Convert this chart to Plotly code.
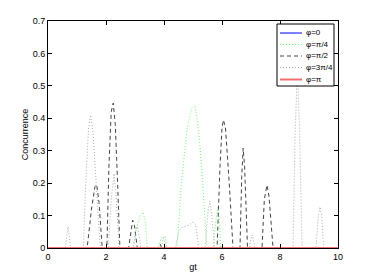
import plotly.graph_objects as go

# phi = 0 (blue) and phi = pi (red) are zero everywhere
gt_flat = [0, 10]
c_flat = [0, 0]

# phi = pi/4 (green dotted)
gt_pi4 = [0, 2.92, 3.05, 3.18, 3.28, 3.36, 3.42, 3.8, 3.88, 3.95, 4.02, 4.06,
          4.45, 4.6, 4.8, 4.95, 5.07, 5.2, 5.35, 5.48, 5.7, 5.78, 5.86, 5.92, 5.96, 10]
c_pi4 = [0, 0, 0.06, 0.10, 0.11, 0.08, 0, 0, 0.025, 0.035, 0.02, 0,
         0, 0.20, 0.37, 0.43, 0.44, 0.36, 0.18, 0, 0, 0.08, 0.125, 0.07, 0, 0]

# phi = pi/2 (dark dashed)
gt_pi2 = [0, 1.35, 1.5, 1.62, 1.68, 1.76, 1.87, 2.03, 2.1, 2.18, 2.25, 2.32, 2.4, 2.48,
          2.78, 2.86, 2.92, 2.98, 3.08, 3.82, 3.87, 3.92,
          5.83, 5.93, 6.0, 6.05, 6.12, 6.25, 6.38, 6.62, 6.68, 6.73, 6.78, 6.88,
          7.38, 7.46, 7.55, 7.62, 7.76, 10]
c_pi2 = [0, 0, 0.12, 0.19, 0.195, 0.14, 0, 0, 0.25, 0.42, 0.447, 0.38, 0.2, 0,
         0, 0.06, 0.086, 0.07, 0, 0, 0.012, 0,
         0, 0.25, 0.37, 0.395, 0.37, 0.2, 0, 0, 0.22, 0.308, 0.25, 0,
         0, 0.15, 0.194, 0.16, 0, 0]

# phi = 3pi/4 (light gray dotted)
gt_3pi4 = [0, 0.6, 0.65, 0.69, 0.73, 0.78, 1.22, 1.3, 1.4, 1.47, 1.55, 1.66, 1.8,
           2.08, 2.18, 2.28, 2.36, 2.45, 2.95, 3.02, 3.08, 3.14, 3.2,
           3.9, 3.98, 4.04, 4.1, 4.4, 4.5, 4.65, 4.85, 5.0, 5.1, 5.2,
           5.42, 5.5, 5.58, 5.65, 5.74, 6.95, 7.0, 7.05, 7.1, 7.14,
           8.45, 8.52, 8.6, 8.68, 8.76, 9.24, 9.32, 9.38, 9.44, 9.5, 10]
c_3pi4 = [0, 0, 0.04, 0.065, 0.04, 0, 0, 0.2, 0.37, 0.41, 0.36, 0.2, 0,
          0, 0.15, 0.23, 0.15, 0, 0, 0.05, 0.065, 0.04, 0,
          0, 0.03, 0.037, 0, 0, 0.05, 0.065, 0.07, 0.08, 0.07, 0,
          0, 0.1, 0.145, 0.1, 0, 0, 0.03, 0.04, 0.02, 0,
          0, 0.35, 0.55, 0.35, 0, 0, 0.1, 0.127, 0.1, 0, 0]

series_names = ["φ=0", "φ=π/4", "φ=π/2", "φ=3π/4", "φ=π"]
x_ticks = [0, 2, 4, 6, 8, 10]
y_ticks = [0, 0.1, 0.2, 0.3, 0.4, 0.5, 0.6, 0.7]
y_tick_labels = ["0", "0.1", "0.2", "0.3", "0.4", "0.5", "0.6", "0.7"]

styles = [
    dict(color="#0000ff", width=1, dash="solid"),
    dict(color="#66ff66", width=1, dash="1px,2px"),
    dict(color="#444444", width=1, dash="4px,3px"),
    dict(color="#aaaaaa", width=1, dash="1px,2px"),
    dict(color="#f07070", width=2, dash="solid"),
]
xs = [gt_flat, gt_pi4, gt_pi2, gt_3pi4, gt_flat]
ys = [c_flat, c_pi4, c_pi2, c_3pi4, c_flat]

fig = go.Figure()
for name, x, y, st in zip(series_names, xs, ys, styles):
    fig.add_trace(go.Scatter(x=x, y=y, mode="lines", name=name, line=st, showlegend=False))

# page has an 8px body margin; figure size/margins compensate for it
OFF = 8
W, H = 374 - OFF, 280 - OFF
L, R, T, B = 48 - OFF, 36, 21 - OFF, 32
pw, ph = W - L - R, H - T - B


def px(xp):
    return (xp - OFF - L) / pw


def py(yp):
    return (H - B - (yp - OFF)) / ph


shapes = [dict(type="rect", xref="paper", yref="paper",
               x0=px(277), x1=px(334), y0=py(86), y1=py(24),
               line=dict(color="#000000", width=1), fillcolor="white", layer="above")]
annotations = []
entry_y = [33, 44.5, 56, 67.5, 79.5]
for name, st, ey in zip(series_names, styles, entry_y):
    shapes.append(dict(type="line", xref="paper", yref="paper",
                       x0=px(280), x1=px(302), y0=py(ey), y1=py(ey),
                       line=dict(color=st["color"], width=st["width"], dash=st["dash"]),
                       layer="above"))
    annotations.append(dict(text=name, xref="paper", yref="paper", x=px(304), y=py(ey),
                            xanchor="left", yanchor="middle", showarrow=False,
                            font=dict(size=8, color="#000000")))

axis_common = dict(showgrid=False, zeroline=False, showline=True, linecolor="#000000",
                   linewidth=1, mirror="ticks", ticks="inside", ticklen=4,
                   tickcolor="#000000", tickfont=dict(size=9, color="#000000"),
                   automargin=False)

fig.update_layout(
    width=W, height=H,
    margin=dict(l=L, r=R, t=T, b=B),
    paper_bgcolor="white", plot_bgcolor="white",
    font=dict(family="Liberation Sans, Arial, sans-serif", size=9, color="#000000"),
    xaxis=dict(range=[0, 10], tickvals=x_ticks, title=dict(text="gt", standoff=2,
               font=dict(size=9)), **axis_common),
    yaxis=dict(range=[0, 0.7], tickvals=y_ticks, ticktext=y_tick_labels,
               title=dict(text="Concurrence", standoff=2, font=dict(size=9)), **axis_common),
    shapes=shapes, annotations=annotations,
    showlegend=False,
)

fig.write_html("out.html")
